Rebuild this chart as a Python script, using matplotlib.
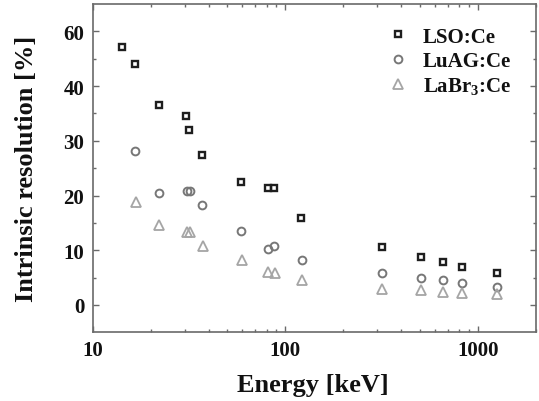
import matplotlib
matplotlib.use("Agg")
import matplotlib.pyplot as plt
from matplotlib.ticker import FixedLocator, FixedFormatter, LogLocator, NullFormatter

plt.rcParams['font.family'] = ['Liberation Serif', 'DejaVu Serif']
plt.rcParams['font.weight'] = 'bold'
plt.rcParams['mathtext.fontset'] = 'custom'
plt.rcParams['mathtext.rm'] = 'Liberation Serif:bold'
plt.rcParams['mathtext.it'] = 'Liberation Serif:bold'
plt.rcParams['mathtext.bf'] = 'Liberation Serif:bold'
plt.rcParams['mathtext.default'] = 'rm'

# Data
energy_lso = [14.2, 16.6, 22.0, 30.7, 31.6, 37.1, 59.0, 81.0, 87.5, 121.5, 318, 509, 658, 828, 1265]
res_lso = [47.2, 44.0, 36.6, 34.6, 31.9, 27.4, 22.5, 21.3, 21.4, 15.9, 10.6, 8.7, 7.8, 6.9, 5.8]

energy_luag = [16.6, 22.0, 30.9, 32.2, 37.1, 59.0, 81.0, 87.5, 122, 318, 509, 658, 828, 1265]
res_luag = [28.1, 20.5, 20.9, 20.9, 18.3, 13.6, 10.2, 10.8, 8.25, 5.8, 4.9, 4.5, 4.0, 3.3]

energy_labr = [16.7, 22.1, 30.9, 32.2, 37.3, 59.5, 81.0, 88.5, 122, 318, 509, 658, 828, 1265]
res_labr = [18.8, 14.6, 13.4, 13.4, 10.8, 8.25, 6.1, 5.8, 4.6, 2.9, 2.8, 2.3, 2.2, 1.95]

series_labels = ['LSO:Ce', 'LuAG:Ce', r'LaBr$_3$:Ce']
ytick_values = [0, 10, 20, 30, 40, 50]
ytick_labels = ['0', '10', '20', '30', '40', '60']
xtick_values = [10, 100, 1000]
xtick_labels = ['10', '100', '1000']

W, H = 539, 402
fig = plt.figure(figsize=(W / 100, H / 100), dpi=100)
ax = fig.add_axes([92.7 / W, 1 - 333 / H, (535.6 - 92.7) / W, (333 - 5) / H])

ax.plot(energy_lso, res_lso, linestyle='none', marker='s', ms=5.0, mew=1.7,
        mfc='none', mec='#1e1e1e', label=series_labels[0])
ax.plot(energy_luag, res_luag, linestyle='none', marker='o', ms=5.6, mew=1.4,
        mfc='none', mec='#777777', label=series_labels[1])
ax.plot(energy_labr, res_labr, linestyle='none', marker='^', ms=7.2, mew=1.3,
        mfc='none', mec='#a5a5a5', label=series_labels[2])

ax.set_xscale('log')
ax.set_xlim(10, 2000)
ax.set_ylim(-4.94, 55)

ax.xaxis.set_major_locator(FixedLocator(xtick_values))
ax.xaxis.set_major_formatter(FixedFormatter(xtick_labels))
ax.xaxis.set_minor_locator(LogLocator(base=10, subs=range(2, 10)))
ax.xaxis.set_minor_formatter(NullFormatter())
ax.yaxis.set_major_locator(FixedLocator(ytick_values))
ax.yaxis.set_major_formatter(FixedFormatter(ytick_labels))
ax.yaxis.set_minor_locator(FixedLocator([5, 15, 25, 35, 45]))

spine_col = '#6a6a6a'
for s in ax.spines.values():
    s.set_color(spine_col)
    s.set_linewidth(1.2)
ax.tick_params(which='both', direction='in', top=True, right=True, color=spine_col,
               width=1.0, labelsize=15, labelcolor='#111111')
ax.tick_params(which='major', length=4.5, pad=6)
ax.tick_params(which='minor', length=2.5)

fig.text(33 / W, 1 - 169 / H, 'Intrinsic resolution [%]', rotation=90,
         rotation_mode='anchor', ha='center', va='baseline', fontsize=19,
         fontweight='bold', color='#111111')
fig.text(312.5 / W, 1 - 392 / H, 'Energy [keV]', ha='center', va='baseline',
         fontsize=19, fontweight='bold', color='#111111')

leg = ax.legend(loc='upper right', bbox_to_anchor=(0.978, 0.975), frameon=False,
                fontsize=15, handlelength=1.0, handletextpad=0.7, labelspacing=0.2,
                borderpad=0.2)
for t in leg.get_texts():
    t.set_color('#111111')

fig.savefig('out.png', dpi=100)
